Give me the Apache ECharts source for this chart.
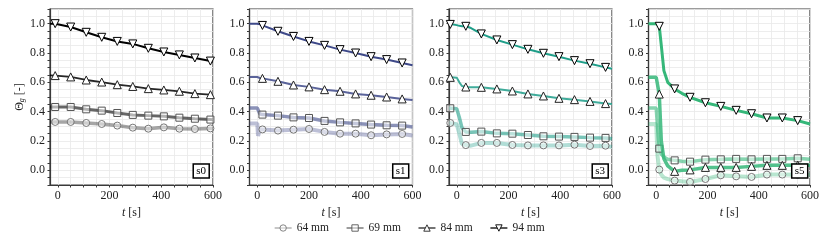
<!DOCTYPE html>
<html><head><meta charset="utf-8">
<script src="https://cdn.jsdelivr.net/npm/echarts@6/dist/echarts.min.js"></script>
<style>html,body{margin:0;padding:0;background:#fff}#c{width:822px;height:240px}</style>
</head><body><div id="c"></div>
<script>
// ---------- data ----------
const sizes = ['64 mm', '69 mm', '84 mm', '94 mm'];
const panels = ['s0', 's1', 's3', 's5'];
const xTickLabels = [0, 200, 400, 600];
const xGridTicks = [0, 50, 100, 150, 200, 250, 300, 350, 400, 450, 500, 550, 600];
const yTickLabels = [0, 0.2, 0.4, 0.6, 0.8, 1.0];
const yGridTicks = [-0.1, -0.05, 0, 0.05, 0.1, 0.15, 0.2, 0.25, 0.3, 0.35, 0.4, 0.45, 0.5, 0.55, 0.6, 0.65, 0.7, 0.75, 0.8, 0.85, 0.9, 0.95, 1.0, 1.05, 1.1];

// panel s0
const s0_t    = [-30, -10, 50, 110, 170, 230, 290, 350, 410, 470, 530, 590, 600];
const s0_mark = [-10, 50, 110, 170, 230, 290, 350, 410, 470, 530, 590];
const s0_64 = [0.330, 0.330, 0.330, 0.323, 0.316, 0.305, 0.291, 0.284, 0.293, 0.284, 0.282, 0.286, 0.285];
const s0_69 = [0.432, 0.432, 0.432, 0.416, 0.407, 0.391, 0.378, 0.373, 0.368, 0.359, 0.352, 0.346, 0.345];
const s0_84 = [0.648, 0.646, 0.637, 0.616, 0.602, 0.584, 0.572, 0.557, 0.548, 0.539, 0.523, 0.516, 0.515];
const s0_94 = [1.000, 1.000, 0.977, 0.941, 0.907, 0.879, 0.862, 0.832, 0.807, 0.787, 0.766, 0.745, 0.741];

// panel s1
const s1_t    = [-30, 0, 3, 10, 20, 80, 140, 200, 260, 320, 380, 440, 500, 560, 600];
const s1_mark = [20, 80, 140, 200, 260, 320, 380, 440, 500, 560];
const s1_64 = [0.320, 0.320, 0.235, 0.280, 0.279, 0.271, 0.277, 0.282, 0.262, 0.250, 0.250, 0.239, 0.245, 0.248, 0.238];
const s1_69 = [0.425, 0.425, 0.430, 0.385, 0.380, 0.373, 0.361, 0.357, 0.337, 0.327, 0.320, 0.312, 0.307, 0.305, 0.296];
const s1_84 = [0.636, 0.636, 0.634, 0.630, 0.627, 0.607, 0.582, 0.569, 0.550, 0.539, 0.521, 0.512, 0.500, 0.487, 0.480];
const s1_94 = [1.000, 1.000, 0.999, 0.995, 0.988, 0.948, 0.913, 0.879, 0.852, 0.823, 0.800, 0.775, 0.755, 0.732, 0.716];

// panel s3
const s3_t    = [-30, -25, 0, 10, 20, 35, 55, 95, 155, 215, 275, 335, 395, 455, 515, 575, 600];
const s3_mark = [-25, 35, 95, 155, 215, 275, 335, 395, 455, 515, 575];
const s3_64 = [0.322, 0.323, 0.315, 0.250, 0.180, 0.172, 0.168, 0.187, 0.187, 0.173, 0.170, 0.170, 0.170, 0.175, 0.166, 0.168, 0.160];
const s3_69 = [0.425, 0.423, 0.420, 0.360, 0.290, 0.262, 0.260, 0.264, 0.252, 0.250, 0.241, 0.232, 0.230, 0.228, 0.223, 0.221, 0.215];
const s3_84 = [0.636, 0.634, 0.632, 0.600, 0.575, 0.568, 0.567, 0.566, 0.555, 0.541, 0.521, 0.507, 0.491, 0.482, 0.470, 0.455, 0.452];
const s3_94 = [1.000, 0.995, 0.990, 0.985, 0.983, 0.982, 0.970, 0.930, 0.889, 0.857, 0.825, 0.798, 0.775, 0.748, 0.727, 0.702, 0.693];

// panel s5
const s5_t    = [-30, 0, 5, 12, 20, 30, 45, 72, 100, 132, 192, 252, 312, 372, 432, 492, 552, 600];
const s5_mark = [12, 72, 132, 192, 252, 312, 372, 432, 492, 552];
const s5_64 = [0.316, 0.316, 0.100, 0.005, -0.030, -0.050, -0.060, -0.070, -0.075, -0.079, -0.059, -0.034, -0.041, -0.045, -0.029, -0.029, -0.030, -0.030];
const s5_69 = [0.425, 0.425, 0.300, 0.148, 0.110, 0.090, 0.075, 0.068, 0.062, 0.059, 0.073, 0.075, 0.078, 0.075, 0.078, 0.078, 0.082, 0.075];
const s5_84 = [0.635, 0.635, 0.630, 0.520, 0.200, 0.080, 0.030, -0.007, 0.000, 0.003, 0.020, 0.020, 0.020, 0.027, 0.034, 0.034, 0.035, 0.035];
const s5_94 = [1.000, 1.000, 1.000, 0.982, 0.850, 0.680, 0.600, 0.555, 0.525, 0.498, 0.461, 0.436, 0.409, 0.386, 0.357, 0.357, 0.339, 0.316];

const panelData = [
  {t: s0_t, mark: s0_mark, vals: [s0_64, s0_69, s0_84, s0_94]},
  {t: s1_t, mark: s1_mark, vals: [s1_64, s1_69, s1_84, s1_94]},
  {t: s3_t, mark: s3_mark, vals: [s3_64, s3_69, s3_84, s3_94]},
  {t: s5_t, mark: s5_mark, vals: [s5_64, s5_69, s5_84, s5_94]}
];

// ---------- style ----------
const FONT = 'Liberation Serif';
const baseRGB = [[0,0,0],[62,73,137],[31,158,137],[53,183,121]];
const alphas = [0.35, 0.6, 0.85, 1.0];
const lineWidths = [[3.5,3,1.8,2],[4,3.5,2,2],[4,3.5,2,2],[4,3.5,3.5,3]];
const symbols = ['circle','rect','triangle','triangle'];
const symRot = [0,0,0,180];
const symFill = ['rgba(255,255,255,0.45)','rgba(255,255,255,0.5)','#ffffff','#ffffff'];
const symEdge = ['#777777','#555555','#222222','#000000'];
const gridLefts = [50, 249.5, 449, 648.5];
const gridW = 163, gridTop = 9, gridH = 176;

const grids = [], xAxes = [], yAxes = [], series = [], titles = [];
panels.forEach((name, p) => {
  grids.push({left: gridLefts[p], top: gridTop, width: gridW, height: gridH,
    show: true, borderColor: '#3a3a3a', borderWidth: 1.2, backgroundColor: '#fff'});
  xAxes.push({type: 'value', gridIndex: p, min: -30, max: 600,
    axisLine: {show: true, onZero: false, lineStyle: {color: '#3a3a3a', width: 1.2}},
    axisTick: {show: true, customValues: xGridTicks, length: 2.5, lineStyle: {color: '#3a3a3a'}},
    axisLabel: {customValues: xTickLabels, color: '#222', fontFamily: FONT, fontSize: 12, margin: 5},
    splitLine: {show: true, lineStyle: {color: '#e8e8e8', width: 0.8}},
    name: '{i|t} [s]', nameLocation: 'middle', nameGap: 21,
    nameTextStyle: {color: '#222', fontFamily: FONT, fontSize: 12,
      rich: {i: {fontStyle: 'italic', fontFamily: FONT, fontSize: 12, color: '#222'}}}
  });
  yAxes.push({type: 'value', gridIndex: p, min: -0.1, max: 1.1,
    axisLine: {show: true, onZero: false, lineStyle: {color: '#3a3a3a', width: 1.2}},
    axisTick: {show: true, customValues: yGridTicks, length: 2.5, lineStyle: {color: '#3a3a3a'}},
    axisLabel: {customValues: yTickLabels, color: '#222', fontFamily: FONT, fontSize: 12, margin: 5,
      formatter: v => v.toFixed(1)},
    splitLine: {show: true, lineStyle: {color: '#e8e8e8', width: 0.8}},
    name: p === 0 ? 'Θ{s|g} [-]' : '', nameLocation: 'middle', nameGap: 21, nameRotate: 90,
    nameTextStyle: {color: '#222', fontFamily: FONT, fontSize: 12,
      rich: {s: {fontStyle: 'italic', fontFamily: FONT, fontSize: 8, color: '#222', padding: [5, 0, 0, 0]}}}
  });
  titles.push({text: name, right: 822 - (gridLefts[p] + gridW - 4), top: 164,
    borderColor: '#000', borderWidth: 1.5, backgroundColor: '#fff', padding: [2, 3, 1, 3],
    textStyle: {fontFamily: FONT, fontSize: 11, fontWeight: 'normal', color: '#000'}, z: 20});
  const pd = panelData[p];
  const rgb = baseRGB[p];
  for (let s = 0; s < 4; s++) {
    const col = `rgba(${rgb[0]},${rgb[1]},${rgb[2]},${alphas[s]})`;
    series.push({
      type: 'line', name: sizes[s], xAxisIndex: p, yAxisIndex: p,
      data: pd.t.map((tt, i) => pd.mark.includes(tt) ? [tt, pd.vals[s][i]] : {value: [tt, pd.vals[s][i]], symbol: 'none'}),
      symbol: symbols[s], symbolRotate: symRot[s], symbolSize: s >= 2 ? 8 : 7,
      showSymbol: true, showAllSymbol: true,
      lineStyle: {color: col, width: lineWidths[p][s]},
      itemStyle: {color: symFill[s], borderColor: symEdge[s], borderWidth: 1},
      silent: true, animation: false, z: 2 + s
    });
  }
});

const chart = echarts.init(document.getElementById('c'), null, {renderer: 'canvas'});
chart.setOption({
  animation: false,
  backgroundColor: '#fff',
  title: titles,
  grid: grids, xAxis: xAxes, yAxis: yAxes, series: series,
  legend: {data: sizes, left: 269, top: 217, itemWidth: 17, itemHeight: 8, itemGap: 17,
    lineStyle: {width: 1.3}, itemStyle: {borderWidth: 0.9},
    textStyle: {fontFamily: FONT, fontSize: 11.5, color: '#222'}, selectedMode: false}
});
</script></body></html>
